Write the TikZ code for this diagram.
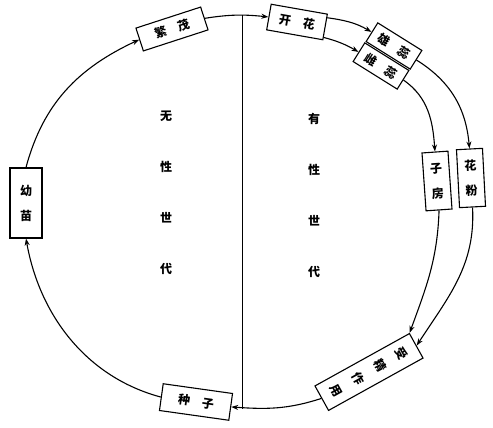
\documentclass[tikz,border=0pt]{standalone}
\usepackage{fontspec}
\newfontfamily\cjk{Noto Sans CJK SC}
\usetikzlibrary{arrows.meta}
\newcommand{\gap}{\hspace{12pt}}

\begin{document}
\begin{tikzpicture}[x=1pt,y=1pt,>={Stealth[length=7pt,width=5pt]},
  box/.style={draw,line width=1.1pt,fill=white,inner sep=0pt,font=\cjk\bfseries\fontsize{12}{14}\selectfont},
  hbox/.style={box,minimum width=#1,minimum height=24pt},
  vbox/.style={box,minimum width=26pt,minimum height=#1,align=center,font=\cjk\bfseries\fontsize{12}{25}\selectfont},
  flow/.style={->,line width=1.1pt},
  gen/.style={align=center,font=\cjk\bfseries\fontsize{12}{51}\selectfont}]
\useasboundingbox (0,0) rectangle (493,428);
% divider and the two generations
\draw[line width=1pt] (242,413) -- (242,19);
\node[gen] (wuxing) at (166,235) {无\\性\\世\\代};
\node[gen] (youxing) at (314,233) {有\\性\\世\\代};
% stages round the cycle
\node[hbox=57pt,minimum height=26pt,rotate=-10] (kaihua) at (297,406) {开\gap 花};
\node[hbox=68pt,rotate=18] (fanmao) at (172,399) {繁\gap 茂};
\node[vbox=70pt,minimum width=32pt] (youmiao) at (26,225) {幼\\苗};
\node[hbox=70pt,minimum height=27pt,rotate=-8] (zhongzi) at (196,26) {种\gap 子};
\node[hbox=52pt,minimum height=22pt,rotate=-32] (xiongrui) at (394,382) {雄\gap 蕊};
\node[hbox=52pt,minimum height=22pt,rotate=-32] (cirui) at (381,362) {雌\gap 蕊};
\node[vbox=58pt,rotate=4] (zifang) at (437,247) {子\\房};
\node[vbox=58pt,rotate=3] (huafen) at (471,250) {花\\粉};
\node[vbox=108pt,minimum width=28pt,rotate=-61,
  font=\cjk\bfseries\fontsize{12}{25}\selectfont] (shoujing) at (369,56) {受\\精\\作\\用};
% flow
\draw[flow] (zhongzi.west) to[out=165,in=-80,looseness=0.95] (youmiao.south);
\draw[flow] (youmiao.north) to[out=75,in=205] (fanmao.west);
\draw[flow] (fanmao.east) to[out=9,in=174] (kaihua.west);
\draw[flow] (kaihua.18) to[out=-8,in=150] (xiongrui.west);
\draw[flow] (kaihua.-20) to[out=-15,in=150] (cirui.west);
\draw[flow] (xiongrui.east) to[out=-32,in=95] (huafen.north);
\draw[flow] (cirui.east) to[out=-35,in=94] (zifang.north);
\draw[flow] (huafen.south) to[out=-87,in=57] (shoujing.north);
\draw[flow] (zifang.south) to[out=-92,in=70] (shoujing.north west);
\draw[flow] (shoujing.south) to[out=198,in=-4] (zhongzi.east);
\end{tikzpicture}
\end{document}
